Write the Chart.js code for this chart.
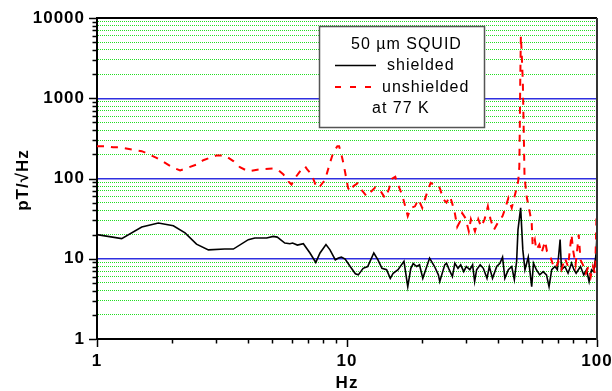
<!DOCTYPE html>
<html>
<head>
<meta charset="utf-8">
<script src="https://cdn.jsdelivr.net/npm/chart.js@4/dist/chart.umd.min.js"></script>
<style>
  html, body { margin: 0; padding: 0; background: #fff; }
  canvas { display: block; }
</style>
</head>
<body>
<canvas id="c" width="612" height="391"></canvas>
<script>
// ---- data ----
const shieldedFreq = [1, 1.255, 1.51, 1.76, 2.02, 2.25, 2.5, 2.79, 3.24, 3.51, 4.03, 4.28, 4.77, 5.07, 5.26, 5.64, 5.91, 6.06, 6.33, 6.69,
  7.11, 7.5, 7.8, 8.24, 8.55, 8.98, 9.24, 9.5, 9.83, 10.3, 10.8, 11.1, 11.6, 12.1, 12.8, 13.3, 13.8, 14.4, 14.9, 15.3,
  16.0, 16.9, 17.5, 18.0, 18.4, 19.0, 19.5, 20.1, 21.4, 22.4, 23.2, 23.5, 24.6, 25.0, 25.5, 26.4, 27.0, 27.8, 28.5, 29.3,
  30.0, 31.0, 31.8, 32.4, 33, 34.1, 35.1, 36.3, 37.1, 38.2, 39.7, 40.9, 41.9, 42.8, 44.2, 45.6, 46.7, 47.7, 48.3, 49.5,
  50.5, 51.5, 53.1, 54.8, 55.7, 57.2, 59, 60.9, 62.8, 64.3, 65.9, 67.9, 69.4, 71.2, 72.1, 74.4, 76.6, 79.1, 80.9, 82.5,
  85.9, 88.5, 90.8, 93.0, 95.1, 97.0, 99, 100];
const shieldedNoise = [20, 17.8, 24.9, 27.9, 25.8, 21, 15.2, 12.9, 13.2, 13.2, 17.3, 18.1, 18.1, 19, 18.6, 15.7, 15.4, 15.7, 14.8, 15.4,
  11.8, 9.0, 11.8, 15, 12.9, 9.7, 10.2, 10.5, 9.9, 8.0, 6.5, 6.3, 7.6, 8.0, 11.8, 9.7, 7.6, 7.3, 5.7, 6.6,
  7.3, 9.3, 4.5, 7.6, 8.7, 8.0, 8.4, 5.7, 10.2, 8.0, 6.3, 5.2, 8.4, 8.8, 7.6, 6.0, 8.8, 7.6, 8.4, 6.9,
  8.0, 7.3, 8.4, 5.2, 7.3, 8.4, 7.6, 5.7, 8.0, 5.7, 8, 8.8, 10.5, 5.7, 7.3, 8, 5.5, 9.3, 23, 43,
  12.9, 7.3, 10.5, 4.5, 8.8, 7.3, 6.3, 6.9, 6.3, 4.5, 7.3, 8, 7.3, 17.3, 7.3, 8, 6.6, 8.8, 7.3, 6.6,
  8, 6.3, 7.3, 5.2, 7.3, 6.9, 11, 20];

const unshieldedFreq = [1, 1.08, 1.16, 1.22, 1.51, 1.60, 1.73, 2.02, 2.15, 2.5, 2.66, 3.01, 3.24, 3.51, 3.73, 4.03, 4.49, 5.07, 5.31, 5.57,
  5.83, 6.0, 6.19, 6.58, 6.79, 6.93, 7.22, 7.57, 7.8, 8.18, 8.55, 8.81, 9.15, 9.3, 9.5, 9.7, 10.1, 10.3, 10.6, 11.0,
  11.4, 12.0, 12.5, 13.0, 13.5, 14.2, 14.7, 15.1, 15.6, 15.9, 16.6, 17.1, 17.5, 18.0, 18.7, 19.3, 20.0, 20.5, 21.1, 21.6,
  22.2, 22.8, 23.5, 24.3, 25.0, 25.8, 26.3, 27.0, 27.6, 28.3, 28.9, 29.8, 30.7, 31.3, 32.5, 33.5, 34.4, 35.5, 36.6, 37.5,
  38.7, 40.1, 41.9, 42.8, 44.2, 45.6, 46.5, 47.7, 48.4, 48.9, 49.1, 49.3, 49.6, 50.0, 50.5, 51.0, 51.3, 52.3, 53.9, 54.8,
  55.3, 56.4, 57.2, 58.8, 60.0, 62.0, 63.1, 65, 66.7, 68.4, 70, 72.1, 74.4, 76.6, 79.1, 80.2, 82.1, 83.6, 84.5, 85.9,
  88.5, 90.3, 92.4, 94.4, 96.3, 98.3, 99.5, 100];
const unshieldedNoise = [253, 253, 245, 245, 219, 203, 181, 136, 126, 149, 169, 194, 194, 165, 138, 123, 130, 133, 127, 112,
  92, 84, 101, 130, 142, 130, 112, 76, 80, 97, 157, 210, 253, 253, 199, 149, 76, 69, 80, 87,
  73, 60, 69, 78, 73, 57, 73, 99, 105, 88, 63, 45, 34, 43, 45, 55, 43, 55, 73, 88,
  84, 84, 76, 55, 50, 60, 50, 37, 25, 29, 37, 32, 22, 31, 22, 31, 25, 31, 45, 31,
  23, 28, 34, 41, 57, 43, 55, 76, 93, 140, 400, 1500, 6000, 3500, 1600, 300, 105, 60, 37, 28,
  14.5, 17.3, 12.9, 15, 11.8, 16.5, 12.3, 10.7, 8.4, 7.6, 9.3, 7.3, 10.2, 8, 20, 12.9, 8.4, 14.2, 20, 9.7,
  8, 6.6, 8, 6, 8, 6.5, 32, 30];

const xDecades = [1, 10, 100];
const yDecades = [1, 10, 100, 1000, 10000];
const minorSteps = [1, 2, 3, 4, 5, 6, 7, 8, 9];
const legendTitle = '50 \u00b5m SQUID';
const legendLabels = ['shielded', 'unshielded', 'at 77 K'];
const xTitle = 'Hz';
const yTitle = 'pT/\u221aHz';

// ---- helpers ----
function tickValues(decades) {
  const out = [];
  for (let i = 0; i < decades.length - 1; i++) {
    minorSteps.forEach(m => out.push(decades[i] * m));
  }
  out.push(decades[decades.length - 1]);
  return out;
}
function isMajor(v) {
  const l = Math.log10(v);
  return Math.abs(l - Math.round(l)) < 1e-9;
}
const FONT = '"Liberation Sans", Arial, Helvetica, sans-serif';

const spacingPlugin = {
  id: 'spacing',
  beforeLayout(chart) { try { chart.ctx.letterSpacing = '1px'; } catch (e) {} },
  beforeDraw(chart) { try { chart.ctx.letterSpacing = '1px'; } catch (e) {} }
};

const decorPlugin = {
  id: 'decor',
  afterDraw(chart) {
    const ctx = chart.ctx;
    const a = chart.chartArea;
    const xs = chart.scales.x, ys = chart.scales.y;
    ctx.save();
    try { ctx.letterSpacing = '1px'; } catch (e) {}
    // frame (top, right)
    ctx.strokeStyle = '#000';
    ctx.lineWidth = 2;
    ctx.beginPath();
    ctx.moveTo(a.left - 1, a.top);
    ctx.lineTo(a.right, a.top);
    ctx.stroke();
    ctx.strokeStyle = '#333';
    ctx.beginPath();
    ctx.moveTo(a.right, a.top);
    ctx.lineTo(a.right, a.bottom + 1);
    ctx.stroke();
    // ticks
    ctx.strokeStyle = '#000';
    ctx.lineWidth = 1.5;
    ys.ticks.forEach(t => {
      const p = Math.round(ys.getPixelForValue(t.value)) + 0.5;
      const len = isMajor(t.value) ? 7 : 3.5;
      ctx.beginPath();
      ctx.moveTo(a.left - 1, p);
      ctx.lineTo(a.left - 1 - len, p);
      ctx.stroke();
    });
    xs.ticks.forEach(t => {
      const p = Math.round(xs.getPixelForValue(t.value)) + 0.5;
      const len = isMajor(t.value) ? 7 : 3.5;
      ctx.beginPath();
      ctx.moveTo(p, a.bottom + 1);
      ctx.lineTo(p, a.bottom + 1 + len);
      ctx.stroke();
    });
    // axis titles
    ctx.fillStyle = '#000';
    ctx.font = 'bold 17px ' + FONT;
    ctx.textAlign = 'center';
    ctx.textBaseline = 'middle';
    ctx.fillText(xTitle, (a.left + a.right) / 2, 383);
    ctx.save();
    ctx.translate(23, 180);
    ctx.rotate(-Math.PI / 2);
    ctx.fillText(yTitle, 0, 0);
    ctx.restore();
    // legend box
    const bx = 319.5, by = 26.5, bw = 165, bh = 101;
    ctx.fillStyle = '#fff';
    ctx.fillRect(bx, by, bw, bh);
    ctx.strokeStyle = '#555';
    ctx.lineWidth = 1.5;
    ctx.strokeRect(bx, by, bw, bh);
    ctx.fillStyle = '#000';
    ctx.font = '16px ' + FONT;
    ctx.textAlign = 'left';
    ctx.textBaseline = 'middle';
    ctx.fillText(legendTitle, 351, 45);
    ctx.fillText(legendLabels[0], 387, 66);
    ctx.fillText(legendLabels[1], 382, 88);
    ctx.fillText(legendLabels[2], 372, 109);
    ctx.lineWidth = 1.5;
    ctx.strokeStyle = '#000';
    ctx.beginPath(); ctx.moveTo(335, 65.5); ctx.lineTo(376, 65.5); ctx.stroke();
    ctx.lineWidth = 2;
    ctx.strokeStyle = '#ff0000';
    ctx.setLineDash([6, 9]);
    ctx.beginPath(); ctx.moveTo(335, 87); ctx.lineTo(374, 87); ctx.stroke();
    ctx.setLineDash([]);
    ctx.restore();
  }
};

const ctx = document.getElementById('c').getContext('2d');
new Chart(ctx, {
  type: 'line',
  data: {
    datasets: [
      {
        label: 'unshielded at 77 K',
        data: unshieldedFreq.map((x, i) => ({ x: x, y: unshieldedNoise[i] })),
        borderColor: '#ff0000',
        borderWidth: 2,
        borderDash: [7, 7],
        pointRadius: 0,
        fill: false,
        tension: 0
      },
      {
        label: 'shielded',
        data: shieldedFreq.map((x, i) => ({ x: x, y: shieldedNoise[i] })),
        borderColor: '#000000',
        borderWidth: 1.6,
        pointRadius: 0,
        fill: false,
        tension: 0
      }
    ]
  },
  options: {
    responsive: false,
    animation: false,
    devicePixelRatio: 1,
    layout: { padding: { top: 18, right: 15, left: 0, bottom: 0 } },
    plugins: { legend: { display: false }, tooltip: { enabled: false } },
    scales: {
      x: {
        type: 'logarithmic',
        min: 1, max: 100,
        afterBuildTicks: s => { s.ticks = tickValues(xDecades).map(v => ({ value: v, major: isMajor(v) })); },
        afterFit: s => { s.height = 52; s.paddingLeft = 0; s.paddingRight = 0; },
        grid: { display: false, drawTicks: false },
        border: { display: true, color: '#000', width: 2 },
        ticks: {
          autoSkip: false, maxRotation: 0, minRotation: 0, padding: 12, color: '#000',
          font: { family: FONT, size: 17, weight: 'bold' },
          callback: v => (xDecades.includes(v) ? String(v) : '')
        }
      },
      y: {
        type: 'logarithmic',
        min: 1, max: 10000,
        afterBuildTicks: s => { s.ticks = tickValues(yDecades).map(v => ({ value: v, major: isMajor(v) })); },
        afterFit: s => { s.width = 97; s.paddingTop = 0; s.paddingBottom = 0; },
        grid: {
          drawTicks: false,
          color: c => {
            if (!c.tick) return 'rgba(0,0,0,0)';
            const v = c.tick.value;
            if (v === 1 || v === 10000) return 'rgba(0,0,0,0)';
            return isMajor(v) ? '#3030e0' : '#22dd22';
          },
          lineWidth: c => (c.tick && isMajor(c.tick.value) ? 1.5 : 1)
        },
        border: {
          display: true, color: '#000', width: 2,
          dash: c => (c.tick && !isMajor(c.tick.value) ? [1, 1] : [])
        },
        ticks: {
          autoSkip: false, padding: 12, color: '#000',
          font: { family: FONT, size: 17, weight: 'bold' },
          callback: v => (yDecades.includes(v) ? String(v) : '')
        }
      }
    }
  },
  plugins: [spacingPlugin, decorPlugin]
});
</script>
</body>
</html>
